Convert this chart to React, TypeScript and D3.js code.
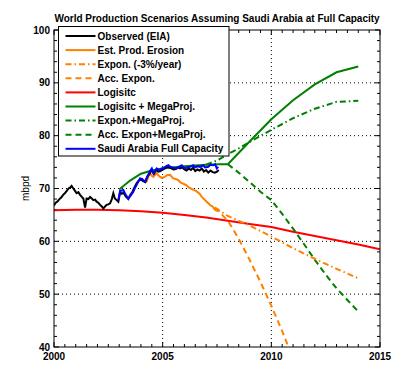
import { scaleLinear, line, range } from "d3";

const width = 419;
const height = 391;
const margin = { top: 30, right: 39, bottom: 44, left: 54 };
const innerWidth = width - margin.left - margin.right;
const innerHeight = height - margin.top - margin.bottom;

const title = "World Production Scenarios Assuming Saudi Arabia at Full Capacity";
const yLabel = "mbpd";
const xTicks = [2000, 2005, 2010, 2015];
const yTicks = [40, 50, 60, 70, 80, 90, 100];

// [year, mbpd]
const observed: [number, number][] = [
  [2000.0, 66.8], [2000.08, 67.3], [2000.17, 67.6], [2000.25, 68.0], [2000.33, 68.3],
  [2000.42, 68.8], [2000.5, 69.1], [2000.58, 69.5], [2000.67, 70.0], [2000.75, 70.2],
  [2000.81, 70.5], [2000.89, 70.0], [2000.96, 69.6], [2001.04, 69.1], [2001.12, 69.3],
  [2001.2, 68.8], [2001.28, 68.4], [2001.35, 68.1], [2001.43, 66.4], [2001.5, 68.1],
  [2001.58, 68.0], [2001.66, 68.4], [2001.74, 68.1], [2001.81, 67.8], [2001.89, 67.9],
  [2001.96, 67.5], [2002.04, 67.3], [2002.12, 66.9], [2002.2, 66.6], [2002.27, 66.2],
  [2002.35, 66.6], [2002.42, 66.9], [2002.5, 67.0], [2002.58, 67.2], [2002.66, 68.0],
  [2002.73, 69.1], [2002.8, 68.1], [2002.88, 67.8], [2002.96, 67.5], [2003.04, 69.3],
  [2003.12, 69.0], [2003.2, 69.2], [2003.3, 68.5], [2003.42, 68.0], [2003.5, 68.7],
  [2003.6, 69.3], [2003.7, 70.2], [2003.8, 71.0], [2003.9, 71.5], [2004.0, 71.7],
  [2004.1, 71.4], [2004.2, 71.2], [2004.3, 72.3], [2004.4, 72.8], [2004.5, 73.5],
  [2004.6, 72.8], [2004.7, 73.5], [2004.8, 73.2], [2004.9, 73.3], [2005.0, 73.6],
  [2005.1, 73.8], [2005.2, 74.1], [2005.3, 74.0], [2005.4, 73.8], [2005.5, 73.6],
  [2005.6, 73.7], [2005.7, 74.0], [2005.8, 73.8], [2005.9, 74.0], [2006.0, 73.6],
  [2006.1, 73.4], [2006.2, 73.8], [2006.3, 73.5], [2006.4, 73.9], [2006.5, 73.3],
  [2006.6, 73.6], [2006.7, 73.4], [2006.8, 73.8], [2006.9, 73.2], [2007.0, 73.5],
  [2007.1, 73.0], [2007.2, 73.4], [2007.3, 73.1], [2007.4, 73.0], [2007.5, 73.2],
  [2007.58, 73.5],
];

const saudiFull: [number, number][] = [
  [2002.96, 67.8], [2003.04, 69.5], [2003.19, 69.7], [2003.3, 68.8], [2003.42, 68.1],
  [2003.55, 68.8], [2003.65, 69.4], [2003.75, 70.3], [2003.88, 71.3], [2003.96, 71.9],
  [2004.05, 71.8], [2004.19, 71.3], [2004.27, 72.0], [2004.34, 72.6], [2004.42, 73.3],
  [2004.5, 73.8], [2004.57, 72.9], [2004.65, 73.3], [2004.73, 73.8], [2004.8, 73.6],
  [2004.88, 73.5], [2004.96, 73.8], [2005.05, 73.9], [2005.15, 74.2], [2005.26, 74.4],
  [2005.35, 74.1], [2005.45, 74.0], [2005.55, 73.9], [2005.65, 73.8], [2005.75, 74.1],
  [2005.88, 74.4], [2005.96, 74.0], [2006.03, 73.8], [2006.15, 74.0], [2006.26, 74.1],
  [2006.41, 74.4], [2006.5, 74.0], [2006.6, 74.2], [2006.72, 74.1], [2006.87, 74.4],
  [2006.95, 74.0], [2007.1, 74.1], [2007.2, 74.5], [2007.33, 74.4], [2007.41, 74.6],
  [2007.49, 73.8], [2007.56, 74.1],
];

const erosion: [number, number][] = [
  [2003.96, 71.9], [2004.05, 71.7], [2004.15, 71.5], [2004.26, 71.3], [2004.34, 72.2],
  [2004.42, 72.9], [2004.5, 72.4], [2004.57, 72.2], [2004.65, 72.6], [2004.73, 72.9],
  [2004.8, 72.5], [2004.88, 72.2], [2004.96, 72.0], [2005.1, 72.2], [2005.2, 72.5],
  [2005.34, 72.6], [2005.42, 72.2], [2005.49, 71.9], [2005.6, 71.8], [2005.72, 71.6],
  [2005.8, 71.2], [2005.88, 71.0], [2006.0, 70.8], [2006.1, 70.6], [2006.2, 70.2],
  [2006.3, 70.0], [2006.4, 69.8], [2006.55, 69.5], [2006.7, 69.0], [2006.8, 68.4],
  [2006.9, 68.0], [2007.0, 67.6], [2007.1, 67.2], [2007.2, 66.8], [2007.3, 66.6],
  [2007.4, 66.0], [2007.5, 65.8], [2007.56, 66.2],
];

const exponDecline: [number, number][] = [
  [2007.4, 66.4], [2008, 64.8], [2009, 63.0], [2010, 60.9], [2011, 58.7],
  [2012, 56.7], [2013, 54.8], [2014, 53.0],
];

const accExpon: [number, number][] = [
  [2007.4, 66.4], [2008, 63.9], [2008.5, 60.5], [2009, 56.5], [2009.5, 52.3],
  [2010, 47.8], [2010.5, 43.0], [2011, 37.8],
];

const logistic: [number, number][] = [
  [2000, 65.9], [2001, 66.0], [2002, 66.0], [2003, 65.9], [2004, 65.7], [2005, 65.4],
  [2006, 65.0], [2007, 64.5], [2008, 63.9], [2009, 63.3], [2010, 62.7], [2011, 61.8],
  [2012, 61.0], [2013, 60.2], [2014, 59.4], [2015, 58.5],
];

const logisticMega: [number, number][] = [
  [2003, 69.8], [2003.5, 71.5], [2004, 72.8], [2004.5, 73.4], [2005, 73.8],
  [2006, 74.2], [2007, 74.5], [2007.6, 74.6], [2008, 74.6], [2009, 78.9],
  [2010, 83.1], [2011, 86.7], [2012, 89.7], [2013, 92.0], [2014, 93.1],
];

const exponMega: [number, number][] = [
  [2007, 74.5], [2007.5, 75.3], [2008, 76.5], [2008.5, 77.6], [2009, 78.8],
  [2010, 81.1], [2011, 83.3], [2012, 85.1], [2013, 86.4], [2014, 86.6],
];

const accExponMega: [number, number][] = [
  [2008, 74.6], [2008.5, 73.0], [2009, 71.2], [2009.5, 69.4], [2010, 67.8],
  [2010.5, 65.2], [2011, 62.4], [2011.5, 59.5], [2012, 56.5], [2012.5, 53.7],
  [2013, 51.1], [2013.5, 48.9], [2014, 46.7],
];

const orange = "#ff8000";
const green = "#008000";
const dashed = "6,4";
const dashDot = "6,3,1.5,3";

const series = [
  { label: "Observed (EIA)", data: observed, color: "#000", dash: "" },
  { label: "Est. Prod. Erosion", data: erosion, color: orange, dash: "" },
  { label: "Expon. (-3%/year)", data: exponDecline, color: orange, dash: dashDot },
  { label: "Acc. Expon.", data: accExpon, color: orange, dash: dashed },
  { label: "Logisitc", data: logistic, color: "#ff0000", dash: "" },
  { label: "Logisitc + MegaProj.", data: logisticMega, color: green, dash: "" },
  { label: "Expon.+MegaProj.", data: exponMega, color: green, dash: dashDot },
  { label: "Acc. Expon+MegaProj.", data: accExponMega, color: green, dash: dashed },
  { label: "Saudi Arabia Full Capacity", data: saudiFull, color: "#0000ff", dash: "" },
];

// order in which lines are painted
const drawOrder = [4, 5, 6, 7, 2, 3, 1, 0, 8];

const App = () => {
  const xScale = scaleLinear().domain([2000, 2015]).range([0, innerWidth]);
  const yScale = scaleLinear().domain([40, 100]).range([innerHeight, 0]);
  const lineGenerator = line<[number, number]>()
    .x((d) => xScale(d[0]))
    .y((d) => yScale(d[1]));

  const xMinor = range(2000, 2015.01, 0.5);
  const yMinor = range(40, 100.01, 2);
  const font = "Liberation Sans, Arial, Helvetica, sans-serif";

  return (
    <svg
      width={width}
      height={height}
      style={{ position: "absolute", left: 0, top: 0, background: "#fff" }}
      fontFamily={font}
    >
      <rect width={width} height={height} fill="#fff" />
      <text
        x={margin.left + innerWidth / 2}
        y={22}
        textAnchor="middle"
        fontSize={10}
        fontWeight="bold"
      >
        {title}
      </text>
      <text
        transform={`translate(25,${margin.top + innerHeight / 2}) rotate(-90)`}
        textAnchor="middle"
        fontSize={10}
        dy="0.35em"
      >
        {yLabel}
      </text>
      <defs>
        <clipPath id="plot-clip">
          <rect width={innerWidth} height={innerHeight} />
        </clipPath>
      </defs>
      <g transform={`translate(${margin.left},${margin.top})`}>
        {/* grid */}
        {xTicks.slice(1, -1).map((t) => (
          <line
            key={"gx" + t}
            x1={xScale(t)}
            x2={xScale(t)}
            y1={0}
            y2={innerHeight}
            stroke="#000"
            strokeDasharray="1,3"
          />
        ))}
        {yTicks.slice(1, -1).map((t) => (
          <line
            key={"gy" + t}
            x1={0}
            x2={innerWidth}
            y1={yScale(t)}
            y2={yScale(t)}
            stroke="#000"
            strokeDasharray="1,3"
          />
        ))}
        {/* minor ticks */}
        {xMinor.map((t) => {
          const major = xTicks.includes(t);
          const len = major ? 5 : 3;
          return (
            <g key={"mx" + t} stroke="#000">
              <line x1={xScale(t)} x2={xScale(t)} y1={innerHeight} y2={innerHeight - len} />
              <line x1={xScale(t)} x2={xScale(t)} y1={0} y2={len} />
            </g>
          );
        })}
        {yMinor.map((t) => {
          const major = yTicks.includes(t);
          const len = major ? 5 : 3;
          return (
            <g key={"my" + t} stroke="#000">
              <line x1={0} x2={len} y1={yScale(t)} y2={yScale(t)} />
              <line x1={innerWidth} x2={innerWidth - len} y1={yScale(t)} y2={yScale(t)} />
            </g>
          );
        })}
        {/* series */}
        <g clipPath="url(#plot-clip)">
          {drawOrder.map((i) => {
            const s = series[i];
            return (
              <path
                key={s.label}
                d={lineGenerator(s.data) || ""}
                fill="none"
                stroke={s.color}
                strokeWidth={2}
                strokeDasharray={s.dash || undefined}
              />
            );
          })}
        </g>
        <rect width={innerWidth} height={innerHeight} fill="none" stroke="#000" />
        {/* tick labels */}
        {xTicks.map((t) => (
          <text
            key={"tx" + t}
            x={xScale(t)}
            y={innerHeight + 13}
            textAnchor="middle"
            fontSize={10}
            fontWeight="bold"
          >
            {t}
          </text>
        ))}
        {yTicks.map((t) => (
          <text
            key={"ty" + t}
            x={-4}
            y={yScale(t)}
            dy="0.35em"
            textAnchor="end"
            fontSize={10}
            fontWeight="bold"
          >
            {t}
          </text>
        ))}
      </g>
      {/* legend */}
      <g transform="translate(58.5,26.5)">
        <rect width={170.5} height={129.5} fill="#fff" stroke="#000" />
        {series.map((s, i) => (
          <g key={"lg" + s.label} transform={`translate(0,${9.5 + i * 14.1})`}>
            <line
              x1={7}
              x2={37}
              stroke={s.color}
              strokeWidth={2}
              strokeDasharray={s.dash || undefined}
            />
            <text x={39} dy="0.35em" fontSize={10} fontWeight="bold">
              {s.label}
            </text>
          </g>
        ))}
      </g>
    </svg>
  );
};

export default App;
